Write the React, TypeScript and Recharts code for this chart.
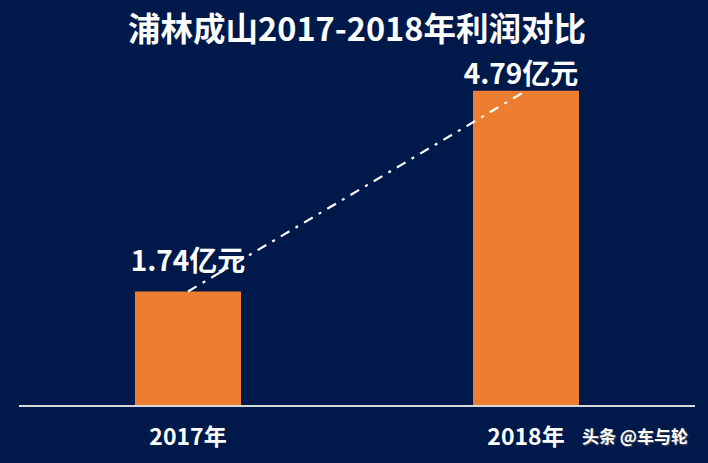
import React from 'react';
import { ComposedChart, Bar, Line, XAxis, YAxis, LabelList } from 'recharts';

const years = ['2017年', '2018年'];
const profits = [1.74, 4.79];
const labelTexts = ['1.74亿元', '4.79亿元'];

const data = years.map((y, i) => ({ year: y, profit: profits[i], label: labelTexts[i] }));

const BG = '#00194B';
const ORANGE = '#ED7D31';
const FONT = '"Noto Sans CJK SC", "Noto Sans", sans-serif';

const labelShift = [{ dx: 0, dy: -21 }, { dx: -5, dy: -7 }];

const PointLabel = (props: any) => {
  const { x, y, index, value } = props;
  const s = labelShift[index] || { dx: 0, dy: -10 };
  return (
    <text x={x + s.dx} y={y + s.dy} textAnchor="middle" fill="#ffffff" fontSize={28} fontWeight="bold" fontFamily={FONT}>
      {value}
    </text>
  );
};

const Tick = (props: any) => {
  const { x, y, payload } = props;
  return (
    <text x={x} y={y + 31} textAnchor="middle" fill="#ffffff" fontSize={23} fontWeight="bold" fontFamily={FONT}>
      {payload.value}
    </text>
  );
};

export default function App() {
  return (
    <div style={{ position: 'absolute', left: 0, top: 0, width: 708, height: 463, background: BG, overflow: 'hidden' }}>
      <div
        style={{
          position: 'absolute', left: 3, top: 10, width: 708, textAlign: 'center',
          color: '#fff', fontSize: 32.5, lineHeight: '33px', fontWeight: 'bold', fontFamily: FONT,
        }}
      >
        浦林成山2017-2018年利润对比
      </div>
      <ComposedChart width={708} height={463} data={data} margin={{ top: 77, right: 13, bottom: 17, left: 19 }}>
        <XAxis
          dataKey="year"
          height={40}
          tickLine={false}
          axisLine={{ stroke: '#D9D9D9', strokeWidth: 2 }}
          tick={<Tick />}
          interval={0}
        />
        <YAxis hide domain={[0, 5]} />
        <Bar dataKey="profit" fill={ORANGE} barSize={106} isAnimationActive={false} />
        <Line
          dataKey="profit"
          type="linear"
          stroke="#ffffff"
          strokeWidth={2.2}
          strokeDasharray="10 7 3 7"
          dot={false}
          activeDot={false}
          isAnimationActive={false}
        >
          <LabelList dataKey="label" content={<PointLabel />} />
        </Line>
      </ComposedChart>
      <div
        style={{
          position: 'absolute', left: 582, top: 427, color: '#fff', fontSize: 17, lineHeight: '17px',
          fontFamily: FONT, fontWeight: 'bold', whiteSpace: 'nowrap', textShadow: '1px 1px 1px #555',
        }}
      >
        头条 @车与轮
      </div>
    </div>
  );
}
